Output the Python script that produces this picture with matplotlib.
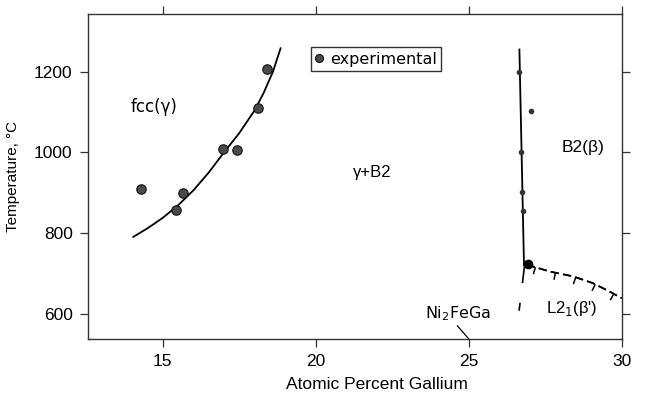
# -*- coding: utf-8 -*-
import matplotlib
matplotlib.use("Agg")
import matplotlib.pyplot as plt
import matplotlib.patheffects as pe

plt.rcParams['font.family'] = ['Liberation Sans', 'DejaVu Sans']

# fcc / (gamma + B2) boundary
fcc_x = [14.04, 14.5, 15.0, 15.5, 16.0, 16.5, 17.0, 17.5, 18.0, 18.3, 18.6, 18.85]
fcc_t = [791, 812, 838, 869, 906, 950, 1000, 1048, 1104, 1148, 1200, 1258]
fcc_pts_x = [14.29, 15.42, 15.67, 16.98, 17.44, 18.11, 18.42]
fcc_pts_t = [910, 858, 899, 1008, 1006, 1109, 1206]

# B2 boundary
b2_x = [26.65, 26.80]
b2_t = [1255, 721]
b2_pts_x = [26.65, 26.70, 26.73, 26.77, 27.02]
b2_pts_t = [1200, 1002, 903, 856, 1103]
b2_dash_x = [26.82, 26.64]
b2_dash_t = [721, 608]
tri_x = [26.92]
tri_t = [723]

# L2_1 ordering boundary
l21_x = [26.89, 27.65, 28.41, 29.06, 29.61, 29.99]
l21_t = [722, 705, 693, 676, 655, 639]

xticks = [15, 20, 25, 30]
yticks = [600, 800, 1000, 1200]

fig = plt.figure(figsize=(6.46, 4.01), dpi=100)
ax = fig.add_axes([0.1362, 0.1546, 0.8266, 0.8105])

ax.plot(fcc_x, fcc_t, color='black', lw=1.3)
ax.plot(fcc_pts_x, fcc_pts_t, 'o', ms=6.8, mfc='#4a4a4a', mec='#111111', mew=0.8,
        label='experimental')

ax.plot(b2_x, b2_t, color='black', lw=1.3)
ax.plot(b2_pts_x, b2_pts_t, 'o', ms=3, color='#333333')
ax.plot(b2_dash_x, b2_dash_t, color='black', lw=1.2, ls=(0, (10.8, 12)))
ax.plot(tri_x, tri_t, 'o', ms=6, color='black')

ax.plot(l21_x, l21_t, color='black', lw=1.2, ls=(0, (5, 2.5)),
        path_effects=[pe.Normal(),
                      pe.withTickedStroke(angle=-90, spacing=13, length=0.4, linewidth=1.1)])

ax.text(14.72, 1113, 'fcc(γ)', family=['DejaVu Sans'], fontsize=12, ha='center', va='center')
ax.text(21.85, 950, 'γ+B2', fontsize=12, ha='center', va='center')
ax.text(28.74, 1013, 'B2(β)', fontsize=12.5, ha='center', va='center')
ax.text(28.36, 614, "L2$_1$(β')", fontsize=12, ha='center', va='center')
ax.annotate('Ni$_2$FeGa', xy=(25, 538), xytext=(24.65, 601),
            family=['DejaVu Sans'], fontsize=11.5, ha='center', va='center',
            arrowprops=dict(arrowstyle='-', color='black', lw=0.9,
                            shrinkA=0, shrinkB=0, relpos=(0.45, 0.0)))

ax.set_xlim(12.56, 30)
ax.set_ylim(538, 1343)
ax.set_xticks(xticks)
ax.set_yticks(yticks)
ax.tick_params(direction='out', length=6, width=0.9, color='#333333',
               labelsize=12.5, top=True, right=True, pad=5)
for s in ax.spines.values():
    s.set_color('#333333')
    s.set_linewidth(1.0)

ax.set_xlabel('Atomic Percent Gallium', fontsize=12.5)
ax.xaxis.set_label_coords(0.541, -0.118)
ax.set_ylabel('Temperature, °C', fontsize=11)
ax.yaxis.set_label_coords(-0.128, 0.5)

leg = ax.legend(loc='upper left', bbox_to_anchor=(0.417, 0.899), frameon=True,
                fancybox=False, handlelength=0.4, handletextpad=0.5, borderpad=0.3,
                borderaxespad=0, markerscale=0.85,
                prop={'family': ['DejaVu Sans'], 'size': 11.5})
leg.get_frame().set_edgecolor('black')
leg.get_frame().set_linewidth(1.0)

fig.savefig('out.png', dpi=100)
